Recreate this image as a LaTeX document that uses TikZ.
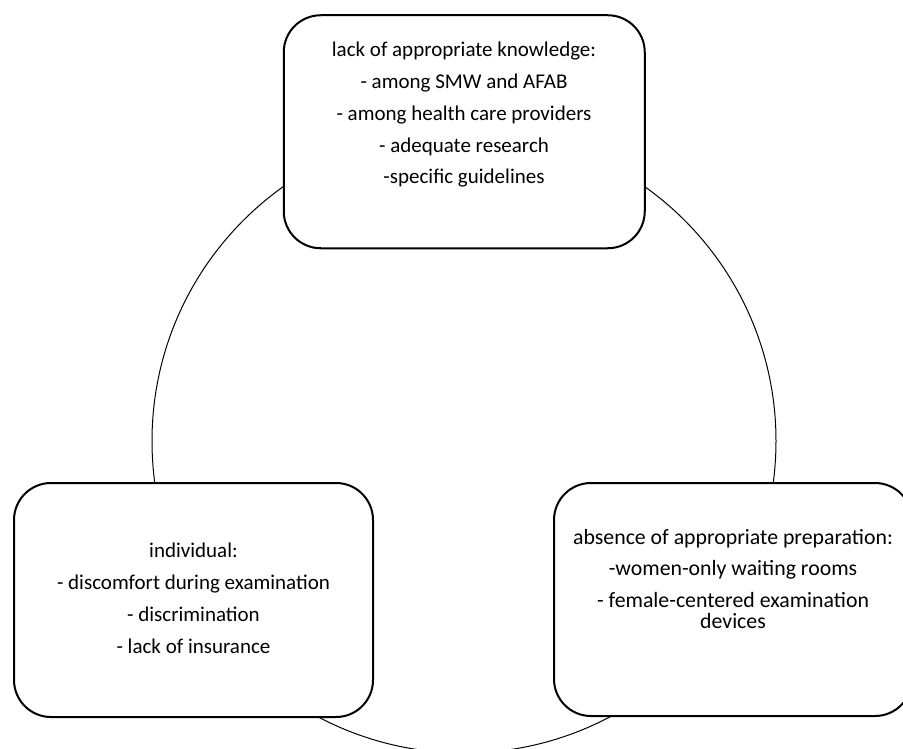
\documentclass[tikz,border=0pt]{standalone}
\usepackage{fontspec}
\setmainfont{Carlito}
\begin{document}
\begin{tikzpicture}[x=1pt,y=-1pt,
  box/.style={draw=black, line width=2pt, fill=white, rounded corners=37pt, inner sep=0pt},
  txt/.style={anchor=base, align=center, inner sep=0pt, font=\fontsize{21pt}{31.8pt}\selectfont}]
\useasboundingbox (0,0) rectangle (903,749);
\begin{scope}
\clip (0,0) rectangle (903,749);
\node[circle, draw=black, line width=1pt, minimum size=624pt, inner sep=0pt] (ring) at (464,441) {};
\node[box, minimum width=361pt, minimum height=233pt] (topbox) at (464.25,131.75) {};
\node[box, minimum width=359pt, minimum height=234pt] (leftbox) at (193.5,600) {};
\node[box, minimum width=358pt, minimum height=233pt] (rightbox) at (733,599.5) {};
\end{scope}
\node[txt] (toptext) at (464,184) {lack of appropriate knowledge:\\- among SMW and AFAB\\- among health care providers\\- adequate research\\-specific guidelines};
\node[txt] (lefttext) at (193.5,653.3) {individual:\\- discomfort during examination\\- discrimination\\- lack of insurance};
\node[txt, font=\fontsize{21.8pt}{31.8pt}\selectfont] (righttext) at (733,628) {absence of appropriate preparation:\\-women-only waiting rooms\\- female-centered examination\\[-11.5pt]devices};
\end{tikzpicture}
\end{document}
